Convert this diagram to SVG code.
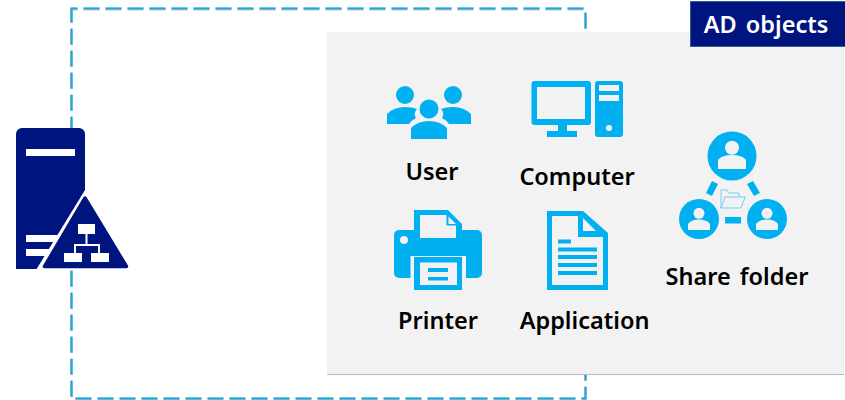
<svg xmlns="http://www.w3.org/2000/svg" width="845" height="400" viewBox="0 0 845 400">
<style>
.i{fill:#00b0f0}
.g{fill:#f2f2f2}
.n{fill:#00147f}
.w{fill:#fff}
.d{fill:none;stroke-dasharray:16 6}
text{font-family:"Noto Sans","Liberation Sans",sans-serif;font-weight:600;font-size:23.5px;fill:#000;text-anchor:middle;word-spacing:3px}
</style>
<g id="connectors">
<path class="d" stroke="#c2c6c8" stroke-width="3" transform="translate(0 .4)" d="M71.5 18.500V8.500H585.500V398.500H71.500V18.500"/>
<path class="d" stroke="#14a9e2" stroke-width="2" d="M71.5 18.500V8.500H585.500V398.500H71.500V18.500"/>
</g>
<g id="panel">
<rect x="327" y="32" width="517" height="342" fill="#f2f2f2"/>
<rect x="327" y="374" width="517" height="1" fill="#bbb"/>
</g>
<g id="ad-objects">
<rect x="690.5" y="1.5" width="155" height="45" class="n" stroke="#3a5a96"/>
<text x="766" y="32.500" style="fill:#fff">AD objects</text>
</g>
<g id="server">
<path class="n" d="M16 269V134a6 6 0 0 1 6-6H79a6 6 0 0 1 6 6V269Z"/>
<rect class="w" x="26" y="149" width="49" height="7"/>
<rect class="w" x="26" y="235" width="40" height="7"/>
<rect class="w" x="26" y="249" width="30" height="7"/>
<path d="M85 190L36 270L130 270V190Z" fill="#fff"/>
<path d="M85 198L44.500 266.500H126.500Z" class="n" stroke="#00147f" stroke-width="3.500" stroke-linejoin="round"/>
<path class="w" d="M78 224H95V234H87.500V244H100V253H109V262H91V253H98V246H76V253H82V262H64V253H74V244H85.500V234H78Z"/>
</g>
<g id="user">
<circle class="i" cx="405" cy="95" r="9"/>
<circle class="i" cx="453" cy="95" r="9"/>
<path class="i" d="M387 124V114Q394 107 405 107Q412 107 417 109Q413 113 416 118Q412 120 409 124Z"/>
<path class="i" d="M471 124V114Q464 107 453 107Q446 107 441 109Q445 113 442 118Q446 120 449 124Z"/>
<circle class="i" cx="429" cy="109" r="9.500"/>
<path class="i" d="M411 139V128Q418 121 429 121Q440 121 447 128V139Z"/>
<text x="432" y="180">User</text>
</g>
<g id="computer">
<rect class="i" x="531.500" y="81" width="59.500" height="44" rx="3"/>
<rect class="g" x="537" y="87" width="48" height="32"/>
<rect class="i" x="558" y="125" width="9" height="7"/>
<rect class="i" x="547" y="131" width="30" height="6"/>
<rect class="i" x="595" y="81" width="28" height="56" rx="3"/>
<rect class="g" x="599" y="85" width="20" height="6"/>
<rect class="g" x="599" y="95" width="20" height="6"/>
<circle class="g" cx="609" cy="128" r="3"/>
<text x="577" y="184.500">Computer</text>
</g>
<g id="share-folder">
<circle class="i" cx="732" cy="156" r="24.500"/>
<circle class="i" cx="699" cy="219" r="20"/>
<circle class="i" cx="767" cy="219" r="20"/>
<circle class="g" cx="732" cy="147.700" r="7"/>
<path class="g" d="M718 169V160Q722 155 732 155Q742 155 746 160V169Z"/>
<circle class="g" cx="699" cy="213.300" r="5.500"/>
<path class="g" d="M688 230V224Q691 219.500 699 219.500Q707 219.500 710 224V230Z"/>
<circle class="g" cx="767" cy="213.300" r="5.500"/>
<path class="g" d="M756 230V224Q759 219.500 767 219.500Q775 219.500 778 224V230Z"/>
<path class="i" d="M712 181L718 184L712 196L706 193Z"/>
<path class="i" d="M747 184L753 181L760 193L754 196Z"/>
<rect class="i" x="725" y="217" width="16" height="6.500"/>
<path d="M721 208V190H727L729 193H739V197M721 208L725 197H745L741 208Z" fill="none" stroke="#6fd0f5" stroke-width="1"/>
<text x="737" y="284.500">Share folder</text>
</g>
<g id="printer">
<path class="i" d="M414 230V210H448L462 224V230H477a5 5 0 0 1 5 5V273a5 5 0 0 1-5 5H399a5 5 0 0 1-5-5V235a5 5 0 0 1 5-5Z"/>
<path class="g" d="M420 215H446.500V225.500H456V238H420Z"/>
<path class="g" d="M448.500 216.500L456 224H448.500Z"/>
<circle class="g" cx="404" cy="240" r="4"/>
<rect class="g" x="410.500" y="256" width="55.500" height="23"/>
<rect class="i" x="414" y="257" width="48" height="33"/>
<rect class="g" x="420" y="262.500" width="37" height="22.500"/>
<rect class="i" x="428" y="268" width="20" height="4"/>
<rect class="i" x="428" y="277" width="20" height="3.500"/>
<text x="438" y="328.500">Printer</text>
</g>
<g id="application">
<path class="i" d="M547 211H583L608 233V290H547Z"/>
<path class="g" d="M552 216H578V237H603V285H552Z"/>
<path class="g" d="M583 218L596 231H583Z"/>
<rect class="i" x="558" y="239.500" width="13" height="4"/>
<rect class="i" x="558" y="247.500" width="39" height="4"/>
<rect class="i" x="558" y="255" width="39" height="4"/>
<rect class="i" x="558" y="263" width="39" height="4"/>
<rect class="i" x="558" y="271" width="39" height="4"/>
<text x="584.500" y="328.500">Application</text>
</g>
</svg>
